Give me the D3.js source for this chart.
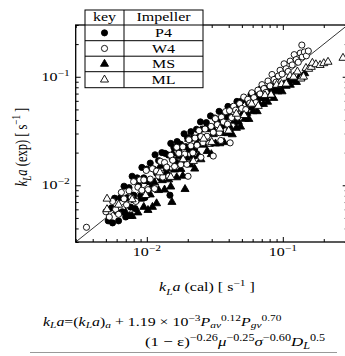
<!DOCTYPE html>
<html><head><meta charset="utf-8">
<script src="https://cdn.jsdelivr.net/npm/d3@7"></script>
<style>html,body{margin:0;padding:0;background:#fff;}svg{display:block;}</style>
</head><body>
<script>
// ---------- data ----------
const categories = ["P4", "W4", "MS", "ML"];
const headerLabels = ["key", "Impeller"];
const axisDomain = [0.003, 0.3];
const majorTicks = [0.01, 0.1];
const tickExponents = ["−2", "−1"];

const p4Points = [[0.0052,0.0047],[0.0055,0.0062],[0.0056,0.0045],[0.0058,0.0076],[0.0060,0.0057],[0.0062,0.0047],[0.0064,0.0077],[0.0066,0.0057],[0.0068,0.0098],[0.0070,0.0051],[0.0072,0.0077],[0.0074,0.0095],[0.0076,0.0063],[0.0078,0.0121],[0.0080,0.0081],[0.0082,0.0061],[0.0085,0.0117],[0.0087,0.0100],[0.0090,0.0080],[0.0092,0.0146],[0.0095,0.0117],[0.0097,0.0077],[0.0100,0.0141],[0.0103,0.0108],[0.0106,0.0160],[0.0109,0.0095],[0.0112,0.0141],[0.0115,0.0191],[0.0118,0.0129],[0.0122,0.0169],[0.0125,0.0117],[0.0129,0.0200],[0.0132,0.0159],[0.0136,0.0197],[0.0140,0.0128],[0.0144,0.0190],[0.0148,0.0081],[0.0150,0.0243],[0.0154,0.0173],[0.0158,0.0223],[0.0163,0.0163],[0.0167,0.0253],[0.0172,0.0211],[0.0177,0.0239],[0.0182,0.0162],[0.0188,0.0298],[0.0193,0.0227],[0.0199,0.0274],[0.0205,0.0215],[0.0211,0.0312],[0.0218,0.0274],[0.0225,0.0210],[0.0232,0.0328],[0.0240,0.0276],[0.0248,0.0384],[0.0256,0.0330],[0.0265,0.0253],[0.0274,0.0378],[0.0284,0.0333],[0.0294,0.0436],[0.0305,0.0327],[0.0316,0.0417],[0.0328,0.0393],[0.0340,0.0480],[0.0353,0.0345],[0.0366,0.0461],[0.0380,0.0426],[0.0395,0.0533],[0.0410,0.0430],[0.0426,0.0524],[0.0443,0.0404],[0.0460,0.0593],[0.0478,0.0524],[0.0497,0.0597],[0.0517,0.0494],[0.0538,0.0618],[0.0560,0.0567],[0.0583,0.0685],[0.0607,0.0566],[0.0632,0.0693],[0.0658,0.0643],[0.0686,0.0770],[0.0715,0.0652],[0.0745,0.0780],[0.0777,0.0677],[0.0810,0.0829],[0.0845,0.0753],[0.0880,0.0840]];

const w4Points = [[0.0036,0.0041],[0.0050,0.0057],[0.0053,0.0051],[0.0056,0.0071],[0.0059,0.0060],[0.0062,0.0054],[0.0065,0.0086],[0.0068,0.0075],[0.0071,0.0066],[0.0074,0.0089],[0.0077,0.0077],[0.0080,0.0108],[0.0083,0.0071],[0.0086,0.0096],[0.0089,0.0112],[0.0092,0.0090],[0.0095,0.0112],[0.0099,0.0137],[0.0102,0.0091],[0.0106,0.0114],[0.0110,0.0142],[0.0114,0.0093],[0.0118,0.0135],[0.0122,0.0122],[0.0126,0.0166],[0.0131,0.0119],[0.0135,0.0162],[0.0140,0.0147],[0.0145,0.0121],[0.0150,0.0189],[0.0155,0.0170],[0.0160,0.0149],[0.0166,0.0224],[0.0172,0.0197],[0.0178,0.0155],[0.0184,0.0226],[0.0190,0.0194],[0.0197,0.0156],[0.0201,0.0121],[0.0204,0.0263],[0.0211,0.0231],[0.0218,0.0199],[0.0226,0.0272],[0.0234,0.0234],[0.0242,0.0319],[0.0250,0.0181],[0.0250,0.0281],[0.0259,0.0247],[0.0268,0.0330],[0.0277,0.0283],[0.0287,0.0244],[0.0297,0.0349],[0.0308,0.0186],[0.0308,0.0308],[0.0319,0.0411],[0.0330,0.0362],[0.0342,0.0305],[0.0350,0.0259],[0.0354,0.0425],[0.0366,0.0383],[0.0379,0.0477],[0.0392,0.0366],[0.0406,0.0487],[0.0410,0.0246],[0.0420,0.0420],[0.0435,0.0535],[0.0450,0.0493],[0.0466,0.0425],[0.0482,0.0566],[0.0499,0.0511],[0.0516,0.0650],[0.0534,0.0498],[0.0553,0.0620],[0.0572,0.0572],[0.0592,0.0712],[0.0613,0.0642],[0.0634,0.0578],[0.0656,0.0753],[0.0679,0.0695],[0.0703,0.0846],[0.0727,0.0779],[0.0752,0.0718],[0.0778,0.0914],[0.0805,0.0824],[0.0833,0.1049],[0.0862,0.0945],[0.0892,0.0892],[0.0927,0.1016],[0.0955,0.1148],[0.0988,0.1059],[0.1022,0.1316],[0.1058,0.1187],[0.1095,0.1120],[0.1133,0.1394],[0.1172,0.1285],[0.1213,0.1599],[0.1255,0.1441],[0.1299,0.1361],[0.1344,0.1653],[0.1380,0.1960],[0.1390,0.1524],[0.1440,0.1692],[0.1490,0.1560],[0.1540,0.1728]];

const msPoints = [[0.0070,0.0056],[0.0075,0.0052],[0.0078,0.0052],[0.0082,0.0073],[0.0086,0.0056],[0.0090,0.0075],[0.0095,0.0063],[0.0099,0.0109],[0.0102,0.0059],[0.0106,0.0082],[0.0110,0.0063],[0.0114,0.0106],[0.0118,0.0068],[0.0122,0.0090],[0.0126,0.0151],[0.0130,0.0111],[0.0135,0.0091],[0.0140,0.0143],[0.0145,0.0113],[0.0150,0.0097],[0.0153,0.0070],[0.0155,0.0195],[0.0160,0.0139],[0.0166,0.0118],[0.0172,0.0184],[0.0178,0.0141],[0.0184,0.0122],[0.0191,0.0092],[0.0196,0.0179],[0.0203,0.0267],[0.0210,0.0155],[0.0217,0.0185],[0.0225,0.0142],[0.0233,0.0244],[0.0241,0.0187],[0.0250,0.0173],[0.0259,0.0236],[0.0268,0.0330],[0.0278,0.0206],[0.0288,0.0240],[0.0298,0.0193],[0.0309,0.0295],[0.0320,0.0242],[0.0332,0.0381],[0.0344,0.0243],[0.0356,0.0302],[0.0369,0.0249],[0.0382,0.0356],[0.0396,0.0301],[0.0410,0.0341],[0.0425,0.0294],[0.0440,0.0392],[0.0456,0.0337],[0.0472,0.0383],[0.0489,0.0346],[0.0507,0.0462],[0.0525,0.0408],[0.0544,0.0463],[0.0563,0.0407],[0.0583,0.0520],[0.0604,0.0480],[0.0626,0.0545],[0.0648,0.0480],[0.0672,0.0559],[0.0696,0.0635],[0.0721,0.0560],[0.0746,0.0637],[0.0773,0.0587],[0.0800,0.0713],[0.0829,0.0674],[0.0858,0.0636],[0.0889,0.0761],[0.0920,0.0731],[0.0953,0.0793],[0.0987,0.0732],[0.1022,0.0850],[0.1058,0.0822],[0.1096,0.0891],[0.1135,0.0841],[0.1175,0.0933],[0.1217,0.0923],[0.1260,0.0892],[0.1305,0.0967],[0.1350,0.0978],[0.1390,0.1000],[0.1450,0.1075]];

const mlPoints = [[0.0051,0.0075],[0.0051,0.0060],[0.0062,0.0066],[0.0078,0.0074],[0.0098,0.0081],[0.0125,0.0131],[0.0150,0.0119],[0.0185,0.0173],[0.0220,0.0167],[0.0262,0.0268],[0.0300,0.0250],[0.0345,0.0332],[0.0400,0.0318],[0.0455,0.0455],[0.0520,0.0442],[0.0590,0.0563],[0.0660,0.0537],[0.0740,0.0675],[0.0820,0.0682],[0.0900,0.0840],[0.0980,0.0854],[0.1060,0.0862],[0.1130,0.1017],[0.1200,0.0998],[0.1280,0.1115],[0.1360,0.0960],[0.1420,0.1000],[0.1480,0.1203],[0.1550,0.1180],[0.1620,0.1230],[0.1650,0.1340],[0.1750,0.1300],[0.1880,0.1280],[0.2000,0.1330],[0.2150,0.1370],[0.2770,0.1490]];

// ---------- layout ----------
const W = 345, H = 356;
const FONT = "'Liberation Serif', 'DejaVu Serif', serif";
const SX = 1.28;
const plot = {l: 75.7, t: 25, r: 347.7, b: 242};

const svg = d3.select("body").append("svg").attr("width", W).attr("height", H);
const x = d3.scaleLog().domain(axisDomain).range([plot.l, plot.r]);
const y = d3.scaleLog().domain(axisDomain).range([plot.b, plot.t]);

function rich(g, px, py, segs, opt) {
  const size = opt.size, rot = opt.rotate;
  const supOff = opt.sup || 0.42, subOff = opt.sub || 0.28;
  const t = g.append("text")
    .attr("transform", rot ? `translate(${px},${py}) rotate(-90) scale(1,${SX})` : `translate(${px},${py}) scale(${SX},1)`)
    .attr("text-anchor", opt.anchor || "start")
    .attr("font-family", FONT).attr("font-size", size).attr("fill", "#000");
  let cur = 0;
  segs.forEach(s => {
    const off = s.s === "sup" ? -supOff * size : s.s === "sub" ? subOff * size : 0;
    const ts = t.append("tspan").text(s.t).attr("dy", (off - cur).toFixed(2));
    cur = off;
    if (s.s) ts.attr("font-size", size * 0.72);
    if (s.i) ts.attr("font-style", "italic");
  });
  return t;
}

// ---------- axes ----------
const minorTicks = x.ticks().filter(v => majorTicks.indexOf(v) < 0 && v >= axisDomain[0] && v <= axisDomain[1]);
function addAxis(axisFn, scale, tr, vals, size) {
  const a = svg.append("g").attr("transform", tr)
    .call(axisFn(scale).tickValues(vals).tickSize(size).tickFormat(""));
  a.select(".domain").remove();
  a.selectAll("line").attr("stroke", "#000").attr("stroke-width", 1);
}
addAxis(d3.axisBottom, x, `translate(0,${plot.b})`, majorTicks, -5);
addAxis(d3.axisBottom, x, `translate(0,${plot.b})`, minorTicks, -3);
addAxis(d3.axisTop, x, `translate(0,${plot.t})`, majorTicks, -5);
addAxis(d3.axisTop, x, `translate(0,${plot.t})`, minorTicks, -3);
addAxis(d3.axisLeft, y, `translate(${plot.l},0)`, majorTicks, -5);
addAxis(d3.axisLeft, y, `translate(${plot.l},0)`, minorTicks, -3);
addAxis(d3.axisRight, y, `translate(${plot.r},0)`, majorTicks, -5);
addAxis(d3.axisRight, y, `translate(${plot.r},0)`, minorTicks, -3);

svg.append("rect").attr("x", plot.l).attr("y", plot.t)
  .attr("width", plot.r - plot.l).attr("height", plot.b - plot.t)
  .attr("fill", "none").attr("stroke", "#000").attr("stroke-width", 1.3);

majorTicks.forEach((v, i) => {
  rich(svg, x(v), plot.b + 14, [{t: "10"}, {t: tickExponents[i], s: "sup"}], {size: 12.5, anchor: "middle"});
  rich(svg, plot.l - 6, y(v) + 4, [{t: "10"}, {t: tickExponents[i], s: "sup"}], {size: 12.5, anchor: "end"});
});

svg.append("line")
  .attr("x1", x(axisDomain[0])).attr("y1", y(axisDomain[0]))
  .attr("x2", x(axisDomain[1])).attr("y2", y(axisDomain[1]))
  .attr("stroke", "#000").attr("stroke-width", 0.8);

// ---------- points ----------
const symCircle = d3.symbol().type(d3.symbolCircle).size(30)();
const symTri = d3.symbol().type(d3.symbolTriangle).size(28)();
const styles = {
  P4: {path: symCircle, fill: "#000"},
  W4: {path: symCircle, fill: "#fff"},
  MS: {path: symTri, fill: "#000"},
  ML: {path: symTri, fill: "#fff"}
};
const seriesData = {P4: p4Points, W4: w4Points, MS: msPoints, ML: mlPoints};
["P4", "MS", "W4", "ML"].forEach(k => {
  svg.append("g").selectAll("path").data(seriesData[k]).join("path")
    .attr("d", styles[k].path)
    .attr("transform", d => `translate(${x(d[0])},${y(d[1])})`)
    .attr("fill", styles[k].fill).attr("stroke", "#000").attr("stroke-width", 0.9);
});

// ---------- legend table ----------
const lg = svg.append("g");
const colX = [85, 124, 203];
const rowY = [10, 25, 40.7, 56.2, 71.7, 87.7];
lg.append("rect").attr("x", colX[0]).attr("y", rowY[0]).attr("width", colX[2] - colX[0]).attr("height", rowY[5] - rowY[0])
  .attr("fill", "#fff").attr("stroke", "#000").attr("stroke-width", 1);
rowY.slice(1, 5).forEach(ry => lg.append("line").attr("x1", colX[0]).attr("x2", colX[2]).attr("y1", ry).attr("y2", ry).attr("stroke", "#000").attr("stroke-width", 1));
lg.append("line").attr("x1", colX[1]).attr("x2", colX[1]).attr("y1", rowY[0]).attr("y2", rowY[5]).attr("stroke", "#000").attr("stroke-width", 1);
rich(lg, (colX[0] + colX[1]) / 2, rowY[1] - 4, [{t: headerLabels[0]}], {size: 12.5, anchor: "middle"});
rich(lg, (colX[1] + colX[2]) / 2, rowY[1] - 4, [{t: headerLabels[1]}], {size: 12.5, anchor: "middle"});
categories.forEach((c, i) => {
  const cy = (rowY[i + 1] + rowY[i + 2]) / 2;
  lg.append("path").attr("d", styles[c].path).attr("transform", `translate(${(colX[0] + colX[1]) / 2},${cy})`)
    .attr("fill", styles[c].fill).attr("stroke", "#000").attr("stroke-width", 0.9);
  rich(lg, (colX[1] + colX[2]) / 2, cy + 4.2, [{t: c}], {size: 12.5, anchor: "middle"});
});

// ---------- axis titles ----------
rich(svg, 207, 291, [{t: "k", i: 1}, {t: "L", s: "sub", i: 1}, {t: "a", i: 1}, {t: " (cal) [ s"}, {t: "−1", s: "sup"}, {t: " ]"}], {size: 12.5, anchor: "middle"});
rich(svg, 27, 147, [{t: "k", i: 1}, {t: "L", s: "sub", i: 1}, {t: "a", i: 1}, {t: " (exp) [ s"}, {t: "−1", s: "sup"}, {t: " ]"}], {size: 12.5, anchor: "middle", rotate: true});

// ---------- equation ----------
rich(svg, 43, 326, [
  {t: "k", i: 1}, {t: "L", s: "sub", i: 1}, {t: "a", i: 1}, {t: "=("}, {t: "k", i: 1}, {t: "L", s: "sub", i: 1}, {t: "a", i: 1}, {t: ")"},
  {t: "a", s: "sub", i: 1}, {t: " + 1.19 × 10"}, {t: "−3", s: "sup"}, {t: "P", i: 1}, {t: "av", s: "sub", i: 1},
  {t: "0.12", s: "sup"}, {t: "P", i: 1}, {t: "gv", s: "sub", i: 1}, {t: "0.70", s: "sup"}
], {size: 12.4, anchor: "start", sub: 0.2, sup: 0.42});
rich(svg, 145, 346, [
  {t: "(1 − ε)"}, {t: "−0.26", s: "sup"}, {t: "μ", i: 1}, {t: "−0.25", s: "sup"}, {t: "σ", i: 1}, {t: "−0.60", s: "sup"},
  {t: "D", i: 1}, {t: "L", s: "sub", i: 1}, {t: "0.5", s: "sup"}
], {size: 13.2, anchor: "start", sub: 0.22, sup: 0.36});
svg.append("line").attr("x1", 30).attr("x2", 337).attr("y1", 352.5).attr("y2", 352.5).attr("stroke", "#999").attr("stroke-width", 1);
</script>
</body></html>
